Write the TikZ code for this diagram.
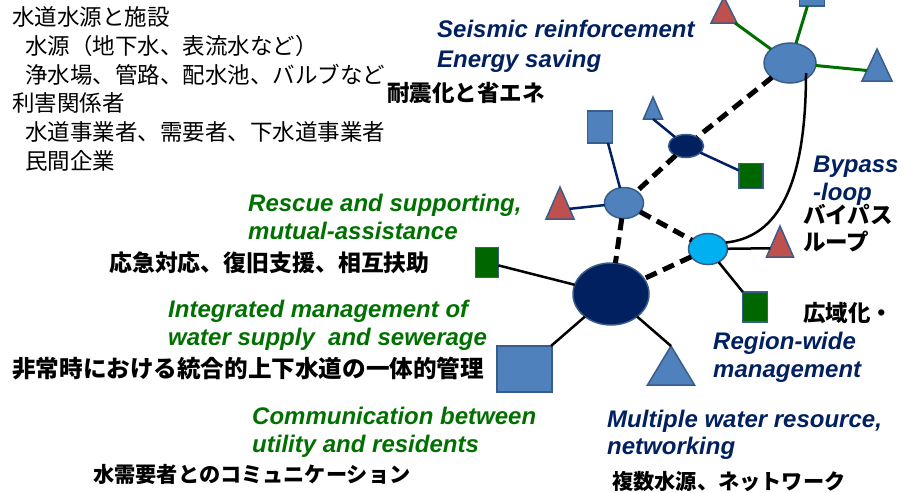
\documentclass[tikz,border=0pt]{standalone}
\usepackage{fontspec}
\setmainfont{Liberation Sans}
\newfontfamily\jp{Noto Sans CJK JP}
\usetikzlibrary{shapes.geometric}
\definecolor{sblue}{RGB}{79,129,189}
\definecolor{sedge}{RGB}{56,93,138}
\definecolor{sred}{RGB}{192,80,77}
\definecolor{sgreen}{RGB}{0,102,0}
\definecolor{snavy}{RGB}{0,32,96}
\definecolor{scyan}{RGB}{0,176,240}
\definecolor{tgreen}{RGB}{0,112,0}
\definecolor{lgreen}{RGB}{0,110,0}
\begin{document}
\begin{tikzpicture}[x=1pt,y=-1pt,
  shp/.style={draw=sedge, line width=1.5pt, inner sep=0pt, outer sep=0pt},
  oval/.style={shp, ellipse},
  box/.style={shp, rectangle},
  tri/.style={shp, isosceles triangle, isosceles triangle stretches, shape border rotate=90, anchor=apex},
  gline/.style={draw=lgreen, line width=3pt},
  nline/.style={draw=snavy, line width=2.5pt},
  bline/.style={draw=black, line width=2.5pt},
  dline/.style={draw=black, line width=5pt, dash pattern=on 12pt off 7pt},
  en/.style={font=\fontsize{24}{28}\selectfont\bfseries\itshape, anchor=base west, inner sep=0pt},
  engreen/.style={en, text=tgreen},
  ennavy/.style={en, text=snavy},
  jpr/.style={font=\jp\fontsize{22.5}{27}\selectfont, anchor=base west, inner sep=0pt},
  jpb/.style={font=\jp\bfseries\fontsize{22.5}{27}\selectfont, anchor=base west, inner sep=0pt},
  jpbs/.style={font=\jp\bfseries\fontsize{21.2}{26}\selectfont, anchor=base west, inner sep=0pt}
]
\useasboundingbox (0,0) rectangle (903,493);

% ellipses
\node[oval, fill=sblue, minimum width=52pt, minimum height=40pt] (E1) at (790,63) {};
\node[oval, fill=snavy, minimum width=35pt, minimum height=23pt] (E2) at (686,146) {};
\node[oval, fill=sblue, minimum width=39pt, minimum height=31pt] (E3) at (624,203) {};
\node[oval, fill=scyan, minimum width=39pt, minimum height=31pt] (E4) at (708,249) {};
\node[oval, fill=snavy, minimum width=76pt, minimum height=62pt] (E5) at (611,294) {};

% squares
\node[box, fill=sblue, minimum width=25pt, minimum height=30pt] (S1) at (812,-9) {};
\node[box, fill=sblue, minimum width=25pt, minimum height=32pt] (S2) at (600,127) {};
\node[box, fill=sgreen, minimum width=24pt, minimum height=25pt] (S3) at (751,176) {};
\node[box, fill=sgreen, minimum width=23pt, minimum height=30pt] (S4) at (487,262.5) {};
\node[box, fill=sblue, minimum width=55pt, minimum height=46pt] (S5) at (524.5,369) {};
\node[box, fill=sgreen, minimum width=25pt, minimum height=30pt] (S6) at (755,307) {};

% triangles
\node[tri, fill=sred, minimum width=26pt, minimum height=26pt] (T1) at (724,-3) {};
\node[tri, fill=sblue, minimum width=30pt, minimum height=32pt] (T2) at (877,49) {};
\node[tri, fill=sblue, minimum width=19pt, minimum height=22pt] (T3) at (653,97) {};
\node[tri, fill=sred, minimum width=28pt, minimum height=32pt] (T4) at (560,187) {};
\node[tri, fill=sred, minimum width=27pt, minimum height=31pt] (T5) at (780,226) {};
\node[tri, fill=sblue, minimum width=47pt, minimum height=39pt] (T6) at (671,346) {};

% connectors
\draw[gline] (E1) -- (T1);
\draw[gline] (E1) -- (S1);
\draw[gline] (E1) -- (T2);
\draw[nline] (T3.lower side) -- (E2);
\draw[nline] (E2) -- (S3);
\draw[nline] ([xshift=8pt]S2.south) -- (E3);
\draw[nline] (T4) -- (E3);
\draw[bline] (S4) -- (E5);
\draw[bline] (E5) -- (S5);
\draw[bline] (E5) -- (T6.apex);
\draw[bline] (E4) -- (T5);
\draw[bline] (E4) -- (S6);
\draw[dline] (E1) -- (E2);
\draw[dline] (E2) -- (E3);
\draw[dline] (E3) -- (E5);
\draw[dline] (E3) -- (E4);
\draw[dline] (E4) -- (E5);
\draw[bline] ([xshift=16pt,yshift=-10pt]E1.center) .. controls (806,200) and (770,238) .. (E4.20);

% top-left text block
\node[jpr] (L1) at (12,25.5) {水道水源と施設};
\node[jpr] (L2) at (25,54.5) {水源（地下水、表流水など）};
\node[jpr] (L3) at (25,83) {浄水場、管路、配水池、バルブなど};
\node[jpr] (L4) at (12,111.5) {利害関係者};
\node[jpr] (L5) at (25,140.5) {水道事業者、需要者、下水道事業者};
\node[jpr] (L6) at (25,169) {民間企業};

% English labels
\node[ennavy] (A1) at (437,37) {Seismic reinforcement};
\node[ennavy] (A2) at (437,67) {Energy saving};
\node[ennavy] (B1) at (813,172) {Bypass};
\node[ennavy] (B2) at (813,200) {-loop};
\node[engreen] (C1) at (248,211) {Rescue and supporting,};
\node[engreen] (C2) at (248,239) {mutual-assistance};
\node[engreen] (D1) at (168,317) {Integrated management of};
\node[engreen] (D2) at (168,345) {water supply\ \ and sewerage};
\node[engreen] (F1) at (252,424) {Communication between};
\node[engreen] (F2) at (252,452) {utility and residents};
\node[ennavy] (G1) at (607,427) {Multiple water resource,};
\node[ennavy] (G2) at (607,454) {networking};
\node[ennavy] (H1) at (713,349) {Region-wide};
\node[ennavy] (H2) at (713,377) {management};

% Japanese bold labels
\node[jpb] (J1) at (387,101.5) {耐震化と省エネ};
\node[jpb] (J2) at (803,223.5) {バイパス};
\node[jpb] (J3) at (803,250) {ループ};
\node[jpb, font=\jp\bfseries\fontsize{22.9}{27}\selectfont] (J4) at (109,271.5) {応急対応、復旧支援、相互扶助};
\node[jpb, font=\jp\bfseries\fontsize{23.6}{28}\selectfont] (J5) at (12,377) {非常時における統合的上下水道の一体的管理};
\node[jpbs] (J6) at (93,482.5) {水需要者とのコミュニケーション};
\node[jpbs] (J7) at (612,489.5) {複数水源、ネットワーク};
\node[jpb] (J8) at (803,321.5) {広域化・};
\end{tikzpicture}
\end{document}
